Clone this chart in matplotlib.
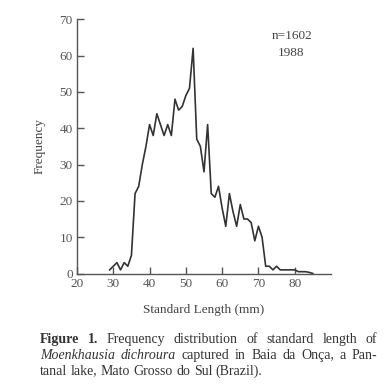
import math
import matplotlib
matplotlib.use("Agg")
import matplotlib.pyplot as plt

# ---- data ----
lengths = list(range(29, 86))
freq = [1, 2, 3, 1, 3, 2, 5, 22, 24, 30, 35,     # 29-39
        41, 38, 44, 41, 38, 41, 38, 48, 45, 46,   # 40-49
        49, 51, 62, 37, 35, 28, 41, 22, 21, 24,   # 50-59
        18, 13, 22, 17, 13, 19, 15, 15, 14, 9,    # 60-69
        13, 10, 2, 2, 1, 2, 1, 1, 1, 1,           # 70-79
        1, 0.5, 0.5, 0.5, 0.3, 0]                 # 80-85
xticks = [20, 30, 40, 50, 60, 70, 80]
yticks = [0, 10, 20, 30, 40, 50, 60, 70]

W, H = 391, 392
plt.rcParams['font.family'] = ['Liberation Serif', 'DejaVu Serif']
fig = plt.figure(figsize=(W / 100, H / 100), dpi=100)

def fx(px):
    return px / W

def fy(py):
    return 1 - py / H

left, right, top, bottom = 77, 331, 19.3, 273.5
ax = fig.add_axes([fx(left), fy(bottom), fx(right) - fx(left), fy(top) - fy(bottom)])

axis_col = '#555555'
text_col = '#555555'
fs = 9.5
ax.plot(lengths, freq, color='#333333', lw=1.2)
ax.set_xlim(20, 90)
ax.set_ylim(0, 70)
ax.set_xticks(xticks)
ax.set_yticks(yticks)
for s in ['top', 'right']:
    ax.spines[s].set_visible(False)
for s in ['left', 'bottom']:
    ax.spines[s].set_color(axis_col)
    ax.spines[s].set_linewidth(1.0)
ax.tick_params(direction='in', length=5, width=1.0, color=axis_col,
               labelsize=fs, labelcolor=text_col, pad=3)
ax.set_xlabel('Standard Length (mm)', fontsize=fs, color='#444444', labelpad=10)
ax.set_ylabel('Frequency', fontsize=fs, color='#444444', labelpad=10)

fig.text(fx(292), fy(36), 'n=1602', fontsize=fs, color='#444444', ha='center', va='center')
fig.text(fx(291), fy(53), '1988', fontsize=fs, color='#444444', ha='center', va='center')

# ---- caption with justified lines (one text per word) ----
cap_col = '#333333'
cap_size = 10
lines = [
    ([('Figure', 'bold', 'normal'), ('1.', 'bold', 'normal'), ('Frequency', 'normal', 'normal'),
      ('distribution', 'normal', 'normal'), ('of', 'normal', 'normal'), ('standard', 'normal', 'normal'),
      ('length', 'normal', 'normal'), ('of', 'normal', 'normal')], True, 343),
    ([('Moenkhausia', 'normal', 'italic'), ('dichroura', 'normal', 'italic'), ('captured', 'normal', 'normal'),
      ('in', 'normal', 'normal'), ('Baia', 'normal', 'normal'), ('da', 'normal', 'normal'),
      ('Onça,', 'normal', 'normal'), ('a', 'normal', 'normal'), ('Pan-', 'normal', 'normal')], True, 359),
    ([('tanal', 'normal', 'normal'), ('lake,', 'normal', 'normal'), ('Mato', 'normal', 'normal'),
      ('Grosso', 'normal', 'normal'), ('do', 'normal', 'normal'), ('Sul', 'normal', 'normal'),
      ('(Brazil).', 'normal', 'normal')], False, 375),
]
cap_left, cap_right = 40, 377
renderer = fig.canvas.get_renderer()

try:
    from matplotlib.backends.backend_agg import get_hinting_flag
except Exception:
    get_hinting_flag = None


def snap_baseline(t, T):
    """Place the word so its rendered baseline lands on canvas row T."""
    Yc = T
    try:
        font = renderer._prepare_font(t.get_fontproperties())
        font.set_text(t.get_text(), 0, flags=get_hinting_flag())
        desc = font.get_descent()
        _, h26 = font.get_width_height()
        ymin = -desc
        ymax = h26 + ymin
        C = math.floor(ymax / 64) - (ymax - ymin) // 64
        Yc = T - C - desc / 64.0
    except Exception:
        Yc = T
    t.set_y(1 - Yc / H)


for words, justify, ypix in lines:
    objs = []
    for w, weight, style in words:
        t = fig.text(fx(cap_left), fy(ypix), w, fontsize=cap_size, color=cap_col,
                     fontweight=weight, fontstyle=style, ha='left', va='baseline')
        objs.append(t)
    widths = [t.get_window_extent(renderer).width for t in objs]
    total = sum(widths)
    if justify:
        gap = (cap_right - cap_left - total) / (len(objs) - 1)
    else:
        sp = fig.text(0, 0, 'a b', fontsize=cap_size)
        ab = fig.text(0, 0, 'ab', fontsize=cap_size)
        gap = sp.get_window_extent(renderer).width - ab.get_window_extent(renderer).width
        sp.remove(); ab.remove()
    x = cap_left
    for t, w in zip(objs, widths):
        t.set_x(fx(x))
        snap_baseline(t, ypix)
        x += w + gap

fig.savefig('out.png', dpi=100)
